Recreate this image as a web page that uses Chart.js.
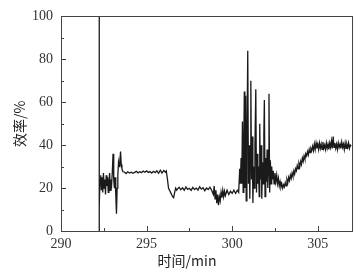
<!DOCTYPE html>
<html><head><meta charset="utf-8">
<script src="https://cdn.jsdelivr.net/npm/chart.js@4/dist/chart.umd.min.js"></script>
<style>html,body{margin:0;padding:0;background:#fff;}canvas{display:block;}</style>
</head><body>
<canvas id="c" width="359" height="277"></canvas>
<script>
// time (min)
const times = [
292.23,292.23,292.24,292.28,292.32,292.36,292.40,292.44,292.48,292.52,292.56,292.60,292.64,292.68,292.72,292.76,292.80,292.84,292.88,292.92,292.96,293.00,293.04,293.08,293.12,293.16,293.20,293.24,293.28,293.32,293.36,293.40,293.44,293.48,293.52,293.56,293.60,293.63,
293.7,293.8,293.9,294.0,294.1,294.2,294.3,294.4,294.5,294.6,294.7,294.8,294.9,295.0,295.1,295.2,295.3,295.4,295.5,295.6,295.7,295.8,295.9,296.0,296.1,296.15,
296.22,296.28,296.34,296.40,296.46,296.52,296.58,296.64,296.70,296.76,
296.8,296.9,297.0,297.1,297.2,297.3,297.4,297.5,297.6,297.7,297.8,297.9,298.0,298.1,298.2,298.3,298.4,298.5,298.6,298.7,298.8,
298.9,298.95,299.0,299.05,299.1,299.15,299.2,299.25,299.3,299.35,299.4,299.45,299.5,299.55,299.6,299.7,299.8,299.9,300.0,300.1,300.2,300.3,300.38,300.44,300.48,
300.52,300.56,300.60,300.64,300.68,300.71,300.74,300.77,300.79,300.82,300.86,300.91,300.95,300.99,301.03,301.06,301.09,301.13,301.17,301.21,301.25,301.29,301.33,301.38,301.42,301.46,301.50,301.54,301.58,301.61,301.65,301.69,301.73,301.77,301.81,301.85,301.88,301.92,301.96,302.00,302.04,302.08,302.12,302.15,302.19,302.23,302.27,302.31,302.35,302.40,302.45,302.50,302.55,302.60,302.65,302.70,302.75,302.80,302.85,302.90,302.95,303.00,
303.05,303.10,303.15,303.20,303.25,303.30,303.35,303.40,303.45,303.50,303.55,303.60,303.65,303.70,303.75,303.80,303.85,303.90,303.95,304.00,304.05,304.10,304.15,304.20,304.25,304.30,304.35,304.40,304.45,304.50,304.55,304.60,304.65,304.70,304.75,304.80,304.85,304.90,304.95,
305.00,305.05,305.10,305.15,305.20,305.25,305.30,305.35,305.40,305.45,305.50,305.55,305.60,305.65,305.70,305.75,305.80,305.85,305.90,305.95,306.00,306.05,306.10,306.15,306.20,306.25,306.30,306.35,306.40,306.45,306.50,306.55,306.60,306.65,306.70,306.75,306.80,306.85,306.90,306.95
];
// efficiency (%)
const efficiency = [
0,100,12,24,26,19,25,18,27,20,24,17,26,21,25,18,23,27,19,24,22,28,36,24,20,25,17,8,20,26,32,30,33,37,31,29,28,27.6,
27.5,26.8,27.6,27.0,27.4,26.9,27.3,27.8,27.1,27.6,27.2,27.9,27.4,28.0,27.3,27.7,27.0,27.8,27.2,28.1,26.9,28.3,27.0,28.2,27.4,28.0,
24,20,19,18,17,16,15.5,18,20,19,
19.5,20.4,19.2,20.1,19.0,20.5,19.4,19.9,18.9,20.3,19.3,20.0,19.1,20.6,19.5,20.2,18.8,20.0,19.3,20.4,19.0,
17,21,15,19,13,17,12,16,14,18,15.5,19,16,18.5,16.5,19,17,18.5,17.5,19,17.5,19,18,29,22,
34,22,51,18,42,65,20,45,63,14,38,84,22,40,15,35,70,24,44,13,30,20,40,66,18,36,22,30,16,50,24,40,15,32,22,45,61,16,34,23,38,20,30,64,18,33,22,30,24,28,22,27,23,26,22,24.5,21,23,20.5,22,20,21.5,
20.5,22.5,21,24,22.5,25,23.5,26,24.5,27,25.5,28,26.5,29,28,30.5,29,31.5,30,32.5,31,34,32.5,35,33.5,36,35,37,35.5,38,36.5,38.5,37.5,39.5,37.5,40.5,38,41,38.5,
40.5,38,41,38.5,40.5,38,41.5,38.5,40,38,41,38.5,40.5,38,41,39,42,38.5,44,39,41,38.5,40.5,38,41,39,40.5,38.5,41.5,39,40.5,38,41,38.5,40.5,39,41,38.5,40,39.5
];
const xTickValues = [290, 295, 300, 305];
const yTickValues = [0, 20, 40, 60, 80, 100];
const xMinorTicks = [292.5, 297.5, 302.5];
const yMinorTicks = [10, 30, 50, 70, 90];
const xTitle = '时间/min';
const yTitle = '效率/%';

const points = times.map((t, i) => ({x: t, y: efficiency[i]}));
const tickFont = {family: '"Liberation Serif","Times New Roman",serif', size: 14};

const framePlugin = {
  id: 'frame',
  afterDraw(chart) {
    const ctx = chart.ctx, a = chart.chartArea;
    const xs = chart.scales.x, ys = chart.scales.y;
    ctx.save();
    ctx.strokeStyle = '#444';
    ctx.lineWidth = 1;
    ctx.strokeRect(Math.round(a.left) + 0.5, Math.round(a.top) + 0.5, Math.round(a.right - a.left), Math.round(a.bottom - a.top));
    ctx.beginPath();
    xTickValues.forEach(v => { const p = Math.round(xs.getPixelForValue(v)) + 0.5; ctx.moveTo(p, a.bottom); ctx.lineTo(p, a.bottom - 5); });
    xMinorTicks.forEach(v => { const p = Math.round(xs.getPixelForValue(v)) + 0.5; ctx.moveTo(p, a.bottom); ctx.lineTo(p, a.bottom - 3); });
    yTickValues.forEach(v => { const p = Math.round(ys.getPixelForValue(v)) + 0.5; ctx.moveTo(a.left, p); ctx.lineTo(a.left + 5, p); });
    yMinorTicks.forEach(v => { const p = Math.round(ys.getPixelForValue(v)) + 0.5; ctx.moveTo(a.left, p); ctx.lineTo(a.left + 3, p); });
    ctx.stroke();
    ctx.fillStyle = '#222';
    ctx.font = '14px "Noto Sans CJK SC", "Liberation Serif", serif';
    ctx.textAlign = 'center';
    ctx.textBaseline = 'middle';
    ctx.fillText(xTitle, 187, 261);
    ctx.translate(20, (a.top + a.bottom) / 2);
    ctx.rotate(-Math.PI / 2);
    ctx.fillText(yTitle, 0, 0);
    ctx.restore();
  }
};

new Chart(document.getElementById('c'), {
  type: 'line',
  data: { datasets: [{ data: points, borderColor: '#1a1a1a', borderWidth: 1.3, pointRadius: 0, tension: 0, fill: false }] },
  options: {
    responsive: false, animation: false,
    layout: { padding: { left: 0, right: 7, top: 15, bottom: 0 } },
    plugins: { legend: { display: false }, tooltip: { enabled: false } },
    scales: {
      x: {
        type: 'linear', min: 290, max: 307,
        afterBuildTicks: s => { s.ticks = xTickValues.map(v => ({value: v})); },
        afterFit: s => { s.height = 46; },
        grid: { display: false, drawTicks: false },
        border: { display: false },
        ticks: { font: tickFont, color: '#333', padding: 5, maxRotation: 0 }
      },
      y: {
        type: 'linear', min: 0, max: 100,
        afterBuildTicks: s => { s.ticks = yTickValues.map(v => ({value: v})); },
        afterFit: s => { s.width = 61; },
        grid: { display: false, drawTicks: false },
        border: { display: false },
        ticks: { font: tickFont, color: '#333', padding: 8 }
      }
    }
  },
  plugins: [framePlugin]
});
</script>
</body></html>
